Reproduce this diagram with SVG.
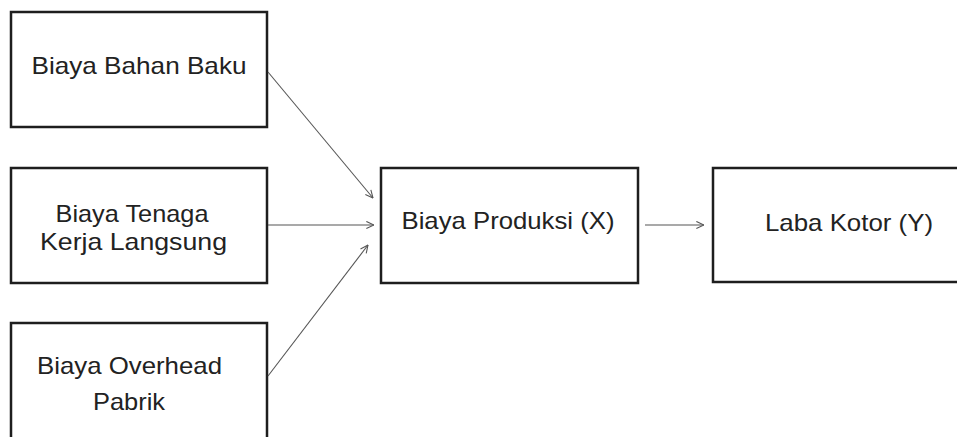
<svg xmlns="http://www.w3.org/2000/svg" width="957" height="437" viewBox="0 0 957 437">
  <style>
    .box { fill: #ffffff; stroke: #1e1e1e; stroke-width: 2.5; }
    .lbl { font-family: "Liberation Sans", Arial, sans-serif; font-size: 24px; fill: #222222; text-anchor: middle; }
    .link { stroke: #555555; stroke-width: 1.1; fill: none; marker-end: url(#head); }
  </style>
  <defs>
    <marker id="head" viewBox="0 0 10 10" refX="9.5" refY="5" markerWidth="9" markerHeight="9" markerUnits="userSpaceOnUse" orient="auto">
      <path d="M1,1 L9.5,5 L1,9" fill="none" stroke="#555555" stroke-width="1.2"/>
    </marker>
  </defs>
  <rect width="957" height="437" fill="#ffffff"/>

  <g id="bahan-baku">
    <rect class="box" x="11" y="12" width="256" height="115"/>
    <text class="lbl" x="139" y="74" textLength="215" lengthAdjust="spacingAndGlyphs">Biaya Bahan Baku</text>
  </g>

  <g id="tenaga-kerja">
    <rect class="box" x="11" y="168" width="256" height="115"/>
    <text class="lbl" x="132" y="222" textLength="153" lengthAdjust="spacingAndGlyphs">Biaya Tenaga</text>
    <text class="lbl" x="133.5" y="250" textLength="187" lengthAdjust="spacingAndGlyphs">Kerja Langsung</text>
  </g>

  <g id="overhead">
    <rect class="box" x="11" y="323" width="256" height="130"/>
    <text class="lbl" x="129.5" y="374" textLength="185" lengthAdjust="spacingAndGlyphs">Biaya Overhead</text>
    <text class="lbl" x="129" y="410" textLength="72" lengthAdjust="spacingAndGlyphs">Pabrik</text>
  </g>

  <g id="produksi">
    <rect class="box" x="381" y="168" width="257" height="115"/>
    <text class="lbl" x="508" y="229" textLength="213" lengthAdjust="spacingAndGlyphs">Biaya Produksi (X)</text>
  </g>

  <g id="laba-kotor">
    <rect class="box" x="713" y="168" width="270" height="114"/>
    <text class="lbl" x="849" y="231" textLength="168" lengthAdjust="spacingAndGlyphs">Laba Kotor (Y)</text>
  </g>

  <g id="connectors">
    <line class="link" x1="268" y1="72" x2="373" y2="198"/>
    <line class="link" x1="268" y1="225" x2="374" y2="225"/>
    <line class="link" x1="268" y1="376" x2="368" y2="245"/>
    <line class="link" x1="645" y1="225" x2="704" y2="225"/>
  </g>
</svg>
